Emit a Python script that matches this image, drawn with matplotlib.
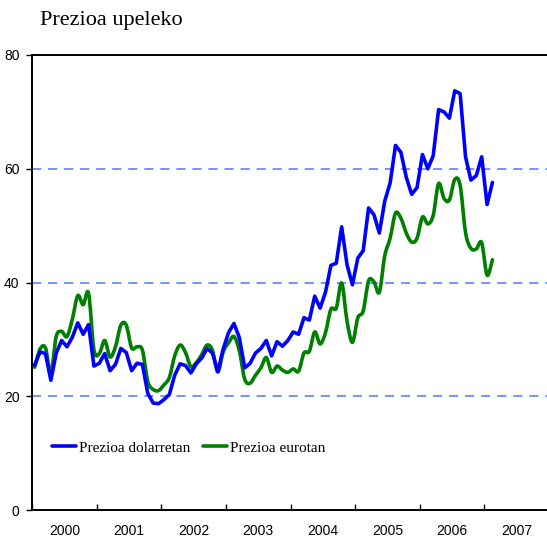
import numpy as np
import matplotlib
matplotlib.use("Agg")
import matplotlib.pyplot as plt
from matplotlib.path import Path
from matplotlib.patches import PathPatch
from matplotlib.lines import Line2D
from matplotlib.ticker import FixedLocator, NullFormatter

# Monthly values, Jan 2000 .. Feb 2007
start_year = 2000
usd_price = [
    25.5, 27.8, 27.5, 22.8, 27.6, 29.8, 28.7, 30.4, 32.9, 30.9, 32.6, 25.3,  # 2000
    25.8, 27.5, 24.5, 25.6, 28.4, 27.7, 24.5, 25.8, 25.6, 20.5, 18.8, 18.7,  # 2001
    19.4, 20.3, 23.7, 25.7, 25.4, 24.1, 25.7, 26.7, 28.4, 27.6, 24.3, 28.3,  # 2002
    31.2, 32.8, 30.3, 25.0, 25.8, 27.6, 28.4, 29.8, 27.1, 29.6, 28.8, 29.8,  # 2003
    31.3, 30.9, 33.8, 33.4, 37.6, 35.5, 38.3, 43.0, 43.4, 49.8, 43.1, 39.6,  # 2004
    44.3, 45.6, 53.1, 51.9, 48.7, 54.3, 57.5, 64.1, 62.9, 58.5, 55.5, 56.7,  # 2005
    62.5, 60.0, 62.3, 70.4, 70.0, 68.9, 73.7, 73.2, 62.1, 58.0, 58.8, 62.1,  # 2006
    53.7, 57.6,                                                              # 2007
]
eur_price = [
    25.1, 28.3, 28.5, 24.1, 30.5, 31.4, 30.5, 33.6, 37.7, 36.1, 38.1, 28.2,
    27.5, 29.8, 26.9, 28.7, 32.5, 32.5, 28.5, 28.7, 28.1, 22.6, 21.2, 21.0,
    22.0, 23.3, 27.1, 29.0, 27.7, 25.2, 25.9, 27.3, 29.0, 28.1, 24.3, 27.8,
    29.4, 30.5, 28.0, 23.0, 22.3, 23.7, 25.0, 26.8, 24.2, 25.3, 24.6, 24.2,
    24.8, 24.4, 27.6, 27.9, 31.3, 29.2, 31.2, 35.3, 35.5, 39.9, 33.2, 29.5,
    33.8, 35.0, 40.3, 40.1, 38.3, 44.7, 47.8, 52.2, 51.3, 48.7, 47.1, 47.8,
    51.5, 50.3, 51.8, 57.4, 54.8, 54.5, 58.1, 57.1, 48.8, 46.0, 45.9, 47.0,
    41.3, 44.0,
]
years = list(range(2000, 2008))
series_labels = ["Prezioa dolarretan", "Prezioa eurotan"]
title = "Prezioa upeleko"

BLUE = "#0000ff"
GREEN = "#008000"
TICK_FONT = "Liberation Sans"


def smooth_path(xs, ys):
    """Bezier path through the points (like a spreadsheet 'smoothed line')."""
    pts = np.column_stack([xs, ys])
    verts = [pts[0]]
    codes = [Path.MOVETO]
    n = len(pts)
    for i in range(n - 1):
        p0 = pts[max(i - 1, 0)]
        p1 = pts[i]
        p2 = pts[i + 1]
        p3 = pts[min(i + 2, n - 1)]
        verts += [p1 + (p2 - p0) / 6.0, p2 - (p3 - p1) / 6.0, p2]
        codes += [Path.CURVE4] * 3
    return Path(verts, codes)


# month centres on a decimal-year axis
x = start_year + (np.arange(len(usd_price)) + 0.5) / 12.0

W, H = 547, 539
fig = plt.figure(figsize=(W / 100, H / 100), dpi=100)
ax = fig.add_axes([32 / W, 29 / H, 517 / W, 455 / H])

for y in (20, 40, 60):
    ax.axhline(y, color="#4a78ff", lw=1.1, dashes=(6, 4.5), zorder=1)

ax.add_patch(PathPatch(smooth_path(x, eur_price), fill=False, edgecolor=GREEN,
                       lw=2.6, joinstyle="round", capstyle="round", zorder=2))
ax.plot(x, usd_price, color=BLUE, lw=2.6, solid_joinstyle="round",
        solid_capstyle="round", zorder=3)

ax.set_xlim(2000, 2008)
ax.set_ylim(0, 80)
ax.set_yticks([0, 20, 40, 60, 80])
ax.tick_params(axis="y", direction="out", length=4, width=1, pad=5,
               labelsize=10)
ax.xaxis.set_major_locator(FixedLocator(years + [2008]))
ax.xaxis.set_major_formatter(NullFormatter())
ax.xaxis.set_minor_locator(FixedLocator([yr + 0.5 for yr in years]))
ax.set_xticklabels([str(yr) for yr in years], minor=True)
ax.tick_params(axis="x", which="major", direction="in", length=4, width=1)
ax.tick_params(axis="x", which="minor", length=0, pad=10, labelsize=10)
for lab in ax.get_yticklabels() + ax.get_xticklabels(minor=True):
    lab.set_family(TICK_FONT)

for s in ax.spines.values():
    s.set_linewidth(1.4)

handles = [Line2D([], [], color=BLUE, lw=2.6, solid_capstyle="round"),
           Line2D([], [], color=GREEN, lw=2.6, solid_capstyle="round")]
ax.legend(handles, series_labels, loc="center left",
          bbox_to_anchor=(0.012, 0.137), ncol=2, frameon=False,
          handlelength=1.6, handletextpad=0.15, columnspacing=0.85,
          prop={"family": "Liberation Serif", "size": 11})

fig.text(40 / W, 1 - 20 / H, title, family="Liberation Serif", fontsize=16,
         va="center", ha="left")

fig.savefig("out.png", dpi=100)
